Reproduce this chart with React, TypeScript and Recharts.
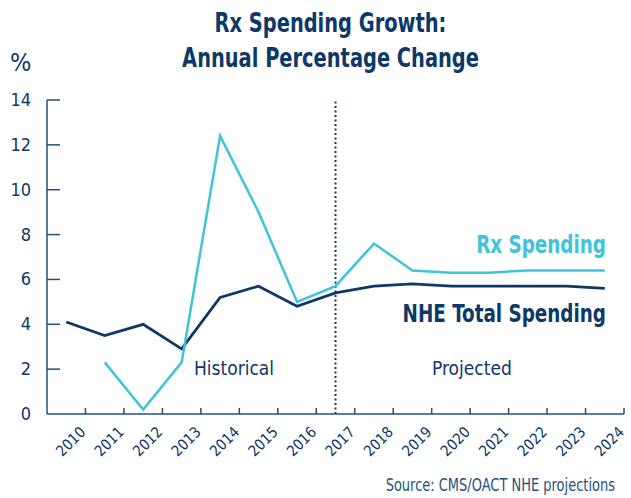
import { LineChart, Line, XAxis, YAxis, ReferenceLine } from 'recharts'

// Annual % change, 2010–2024 (2017 onward projected)
const YEARS = ['2010', '2011', '2012', '2013', '2014', '2015', '2016', '2017', '2018', '2019', '2020', '2021', '2022', '2023', '2024']
const NHE_TOTAL = [4.1, 3.5, 4.0, 2.9, 5.2, 5.7, 4.8, 5.4, 5.7, 5.8, 5.7, 5.7, 5.7, 5.7, 5.6]
const RX_SPENDING = [null, 2.3, 0.2, 2.3, 12.4, 9.0, 5.0, 5.7, 7.6, 6.4, 6.3, 6.3, 6.4, 6.4, 6.4]
const Y_TICKS = [0, 2, 4, 6, 8, 10, 12, 14]
const FIRST_PROJECTED = '2017'

const NAVY = '#0d3868'
const AXIS = '#24507f'
const CYAN = '#3ec3da'
const FONT = "'Liberation Sans Narrow', 'DejaVu Sans Condensed', 'Roboto', sans-serif"

const W = 631
const H = 498
const M = { top: 100, right: 7, bottom: 0, left: 7 }
const Y_AXIS_W = 40
const X_AXIS_H = 84
const AXIS_X = M.left + Y_AXIS_W
const AXIS_Y = H - M.bottom - X_AXIS_H

// each year sits in the middle of its slot; the tick and label mark the slot's right edge
const data = YEARS.map((year, i) => ({ year, pos: i + 0.5, nhe: NHE_TOTAL[i], rx: RX_SPENDING[i] }))
const xTicks = YEARS.map((_, i) => i + 1)
const projectedPos = data.find((d) => d.year === FIRST_PROJECTED)!.pos

function XTick({ x, y, payload }: any) {
  const tx = x + 1
  const ty = y + 11
  return (
    <g>
      <line x1={x} x2={x} y1={AXIS_Y - 6} y2={AXIS_Y} stroke={AXIS} strokeWidth={1.5} />
      <text x={tx} y={ty} transform={`rotate(-45, ${tx}, ${ty})`} textAnchor="end" fill={NAVY} fontSize={15} fontFamily={FONT}>
        {YEARS[payload.value - 1]}
      </text>
    </g>
  )
}

function YTick({ x, y, payload }: any) {
  return (
    <g>
      {payload.value > 0 && <line x1={AXIS_X} x2={AXIS_X + 13} y1={y} y2={y} stroke={AXIS} strokeWidth={1.5} />}
      <text x={x - 8} y={y} dy={6} textAnchor="end" fill={NAVY} fontSize={18} fontFamily={FONT}>
        {payload.value}
      </text>
    </g>
  )
}

// the reference uses a condensed face; squeeze the DejaVu text horizontally to match
const abs = (left: number, top: number, extra: React.CSSProperties = {}): React.CSSProperties => ({
  position: 'absolute',
  left,
  top,
  fontFamily: FONT,
  color: NAVY,
  whiteSpace: 'nowrap',
  lineHeight: 1,
  ...extra,
})

export default function App() {
  return (
    <div style={{ position: 'relative', width: W, height: H, background: '#fff', fontFamily: FONT }}>
      <style>{'body{margin:0}'}</style>
      <div
        style={abs(15, 6, {
          width: W,
          textAlign: 'center',
          fontSize: 26,
          fontWeight: 700,
          lineHeight: '35px',
          transform: 'scaleX(0.83)',
          transformOrigin: '50% 50%',
        })}
      >
        Rx Spending Growth:
        <br />
        Annual Percentage Change
      </div>
      <div style={abs(10, 50, { fontSize: 25 })}>%</div>

      <LineChart width={W} height={H} data={data} margin={M}>
        <XAxis
          dataKey="pos"
          type="number"
          domain={[0, YEARS.length]}
          ticks={xTicks}
          height={X_AXIS_H}
          stroke={AXIS}
          strokeWidth={1.5}
          tickLine={false}
          tick={<XTick />}
          interval={0}
        />
        <YAxis
          type="number"
          domain={[0, 14]}
          ticks={Y_TICKS}
          width={Y_AXIS_W}
          stroke={AXIS}
          strokeWidth={1.5}
          tickLine={false}
          tick={<YTick />}
          interval={0}
        />
        <ReferenceLine x={projectedPos} stroke={NAVY} strokeWidth={2} strokeDasharray="2 2.5" />
        <Line dataKey="nhe" stroke={NAVY} strokeWidth={2.8} dot={false} isAnimationActive={false} />
        <Line dataKey="rx" stroke={CYAN} strokeWidth={2.5} dot={false} connectNulls={false} isAnimationActive={false} />
      </LineChart>

      <div style={abs(0, 233, { width: 606, textAlign: 'right', fontSize: 24, fontWeight: 700, color: CYAN, transform: 'scaleX(0.85)', transformOrigin: '606px 0' })}>
        Rx Spending
      </div>
      <div style={abs(0, 302, { width: 606, textAlign: 'right', fontSize: 24, fontWeight: 700, transform: 'scaleX(0.85)', transformOrigin: '606px 0' })}>
        NHE Total Spending
      </div>
      <div style={abs(194, 359, { fontSize: 19 })}>Historical</div>
      <div style={abs(432, 359, { fontSize: 19 })}>Projected</div>
      <div style={abs(0, 477, { width: 615, textAlign: 'right', fontSize: 17, color: AXIS, transform: 'scaleX(0.85)', transformOrigin: '615px 0' })}>
        Source: CMS/OACT NHE projections
      </div>
    </div>
  )
}
